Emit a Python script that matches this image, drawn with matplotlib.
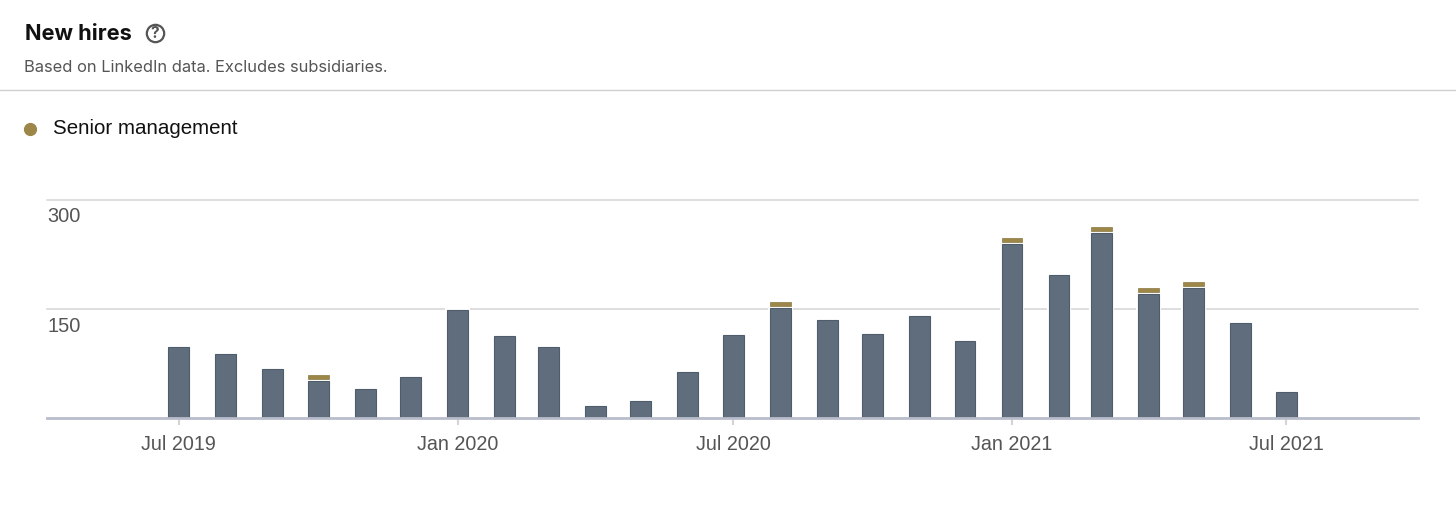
import matplotlib
matplotlib.use("Agg")
import matplotlib.pyplot as plt
from matplotlib.lines import Line2D
from datetime import date, timedelta

months = ["2019-07", "2019-08", "2019-09", "2019-10", "2019-11", "2019-12",
          "2020-01", "2020-02", "2020-03", "2020-04", "2020-05", "2020-06",
          "2020-07", "2020-08", "2020-09", "2020-10", "2020-11", "2020-12",
          "2021-01", "2021-02", "2021-03", "2021-04", "2021-05", "2021-06",
          "2021-07"]
otros = [98, 88, 68, 51, 40, 56, 149, 113, 98, 16, 24, 64, 115, 152, 135, 116, 141, 106,
         240, 197, 255, 171, 179, 131, 36]
senior = [0, 0, 0, 6, 0, 0, 0, 0, 0, 0, 0, 0, 0, 6, 0, 0, 0, 0,
          6, 0, 6, 6, 6, 0, 0]
y_ticks = [0, 150, 300]
x_ticks = [date(2019, 7, 1), date(2020, 1, 1), date(2020, 7, 1), date(2021, 1, 1), date(2021, 7, 1)]
x_labels = ["Jul 2019", "Jan 2020", "Jul 2020", "Jan 2021", "Jul 2021"]

W, H = 1456, 509
GRIS = "#5f6d7c"
DORADO = "#9c8748"
SANS = "Liberation Sans"

def px(x, y):
    # pixeles de la imagen a coordenadas de figura
    return x / W, 1 - y / H

fechas = [date(int(m[:4]), int(m[5:]), 1) for m in months]
hueco = 2.5  # separacion blanca entre las dos partes

fig = plt.figure(figsize=(W / 100, H / 100), dpi=100, facecolor="white")
ax = fig.add_axes([47 / W, 1 - 418 / H, (1418 - 47) / W, (418 - 200.5) / H])

ax.set_ylim(0, 300)
ax.set_xlim(date(2019, 7, 1) - timedelta(days=87.2), date(2021, 7, 1) + timedelta(days=87.2))
for v in y_ticks[1:]:
    ax.axhline(v, color="#d4d4d4", lw=1.1, zorder=1, clip_on=False)

ancho = 13.7
# halo blanco alrededor de las barras, corta las lineas de fondo
ax.bar(fechas, otros, width=ancho, color="white", edgecolor="white", lw=3, zorder=2)
ax.bar(fechas, otros, width=ancho, color=GRIS, edgecolor="#4e5c6c", lw=0.8, zorder=3)
for f, g, s in zip(fechas, otros, senior):
    if s > 0:
        ax.bar(f, s, width=ancho, bottom=g + hueco, color=DORADO, edgecolor="#8a7840", lw=0.5, zorder=3)

for s in ["top", "left", "right"]:
    ax.spines[s].set_visible(False)
ax.spines["bottom"].set_color("#b9bccb")
ax.spines["bottom"].set_linewidth(2)
ax.spines["bottom"].set_zorder(4)

ax.set_yticks([])
ax.set_xticks(x_ticks)
ax.set_xticklabels(x_labels, fontsize=14.2, color="#555555", family=SANS)
ax.tick_params(axis="x", length=5, width=1.5, color="#d4d4d4", pad=7)

# etiquetas del eje y, debajo de cada linea
fig.text(*px(47, 217), "300", fontsize=14.4, color="#555555", family=SANS, va="center", ha="left")
fig.text(*px(47, 326), "150", fontsize=14.4, color="#555555", family=SANS, va="center", ha="left")

# cabecera
fig.text(*px(25, 34.5), "New hires", fontsize=15.7, fontweight="bold", color="#111111",
         family="Inter", va="center", ha="left")
fig.text(*px(24, 67.5), "Based on LinkedIn data. Excludes subsidiaries.", fontsize=11.85, color="#555555",
         family="Inter", va="center", ha="left")
fig.add_artist(Line2D([0, 1], [1 - 89.5 / H] * 2, color="#cfcfcf", lw=1))

# icono de ayuda
x0, y0 = px(155, 33)
fig.add_artist(Line2D([x0], [y0], marker="o", ms=12.5, mfc="white", mec="#555555", mew=1.6, ls="none"))
fig.text(x0, y0, "?", fontsize=11, fontweight="bold", color="#555555", family="Inter", va="center", ha="center")

# leyenda
x0, y0 = px(30, 129)
fig.add_artist(Line2D([x0], [y0], marker="o", ms=8.5, mfc=DORADO, mec=DORADO, ls="none"))
fig.text(*px(53, 128.5), "Senior management", fontsize=14.8, color="#111111", family=SANS, va="center", ha="left")

fig.savefig("out.png", dpi=100)
